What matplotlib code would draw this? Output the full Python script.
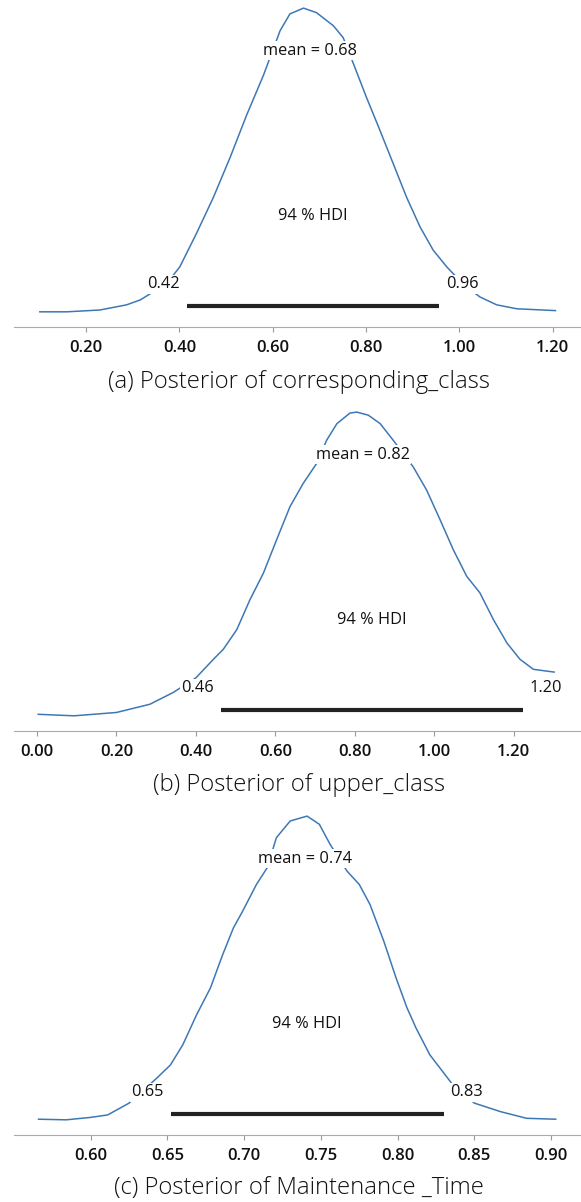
import matplotlib
matplotlib.use("Agg")
import matplotlib.pyplot as plt
from matplotlib.ticker import FormatStrFormatter

plt.rcParams['font.family'] = ['Open Sans', 'DejaVu Sans']

# (a) corresponding_class : x values and relative density
x_a = [0.101, 0.159, 0.230, 0.287, 0.316, 0.334, 0.373, 0.401, 0.437, 0.473,
       0.509, 0.544, 0.580, 0.616, 0.637, 0.666, 0.694, 0.730, 0.751, 0.773,
       0.801, 0.830, 0.858, 0.887, 0.916, 0.944, 0.973, 1.008, 1.044, 1.080,
       1.123, 1.206]
d_a = [0.0, 0.0, 0.006, 0.023, 0.039, 0.056, 0.093, 0.148, 0.259, 0.377,
       0.509, 0.647, 0.778, 0.926, 0.981, 1.0, 0.985, 0.942, 0.903, 0.817,
       0.706, 0.597, 0.489, 0.377, 0.279, 0.203, 0.148, 0.092, 0.049, 0.023,
       0.010, 0.004]
mean_a = 0.68
hdi_a = [0.416, 0.956]
hdi_lab_a = ["0.42", "0.96"]
ticks_a = [0.20, 0.40, 0.60, 0.80, 1.00, 1.20]

# (b) upper_class
x_b = [0.003, 0.093, 0.200, 0.284, 0.343, 0.400, 0.444, 0.469, 0.503, 0.536,
       0.570, 0.603, 0.637, 0.670, 0.704, 0.729, 0.755, 0.788, 0.805, 0.834,
       0.864, 0.897, 0.947, 0.981, 1.015, 1.048, 1.082, 1.115, 1.149, 1.183,
       1.216, 1.250, 1.302]
d_b = [0.005, 0.0, 0.011, 0.038, 0.077, 0.125, 0.186, 0.219, 0.284, 0.382,
       0.470, 0.579, 0.689, 0.765, 0.831, 0.907, 0.962, 0.997, 1.0, 0.990,
       0.962, 0.907, 0.820, 0.743, 0.645, 0.547, 0.459, 0.405, 0.317, 0.240,
       0.186, 0.153, 0.144]
mean_b = 0.82
hdi_b = [0.463, 1.223]
hdi_lab_b = ["0.46", "1.20"]
ticks_b = [0.00, 0.20, 0.40, 0.60, 0.80, 1.00, 1.20]

# (c) Maintenance_Time
x_c = [0.566, 0.584, 0.600, 0.611, 0.625, 0.643, 0.652, 0.660, 0.669, 0.678,
       0.686, 0.693, 0.699, 0.708, 0.715, 0.721, 0.730, 0.741, 0.749, 0.756,
       0.767, 0.775, 0.782, 0.791, 0.799, 0.806, 0.812, 0.821, 0.836, 0.850,
       0.867, 0.884, 0.903]
d_c = [0.002, 0.0, 0.008, 0.016, 0.055, 0.137, 0.181, 0.247, 0.346, 0.434,
       0.544, 0.632, 0.687, 0.775, 0.830, 0.929, 0.984, 1.0, 0.973, 0.907,
       0.819, 0.775, 0.709, 0.588, 0.467, 0.370, 0.302, 0.214, 0.115, 0.055,
       0.027, 0.005, 0.002]
mean_c = 0.74
hdi_c = [0.652, 0.830]
hdi_lab_c = ["0.65", "0.83"]
ticks_c = [0.60, 0.65, 0.70, 0.75, 0.80, 0.85, 0.90]

captions = ["(a) Posterior of corresponding_class",
            "(b) Posterior of upper_class",
            "(c) Posterior of Maintenance _Time"]

panels = [
    (x_a, d_a, mean_a, hdi_a, hdi_lab_a, ticks_a, (0.0457, 1.2607)),
    (x_b, d_b, mean_b, hdi_b, hdi_lab_b, ticks_b, (-0.058, 1.3696)),
    (x_c, d_c, mean_c, hdi_c, hdi_lab_c, ticks_c, (0.550, 0.9195)),
]

W, H = 581, 1202
fig = plt.figure(figsize=(W / 100, H / 100), dpi=100)

spine_px = [327, 731, 1135]
caption_px = [382, 785, 1188]
ax_h = 328
blue = '#3d78b5'
box = dict(facecolor='white', edgecolor='none', pad=1.0)
txt = dict(fontsize=11.8, color='#111111', fontweight='medium')

for i, (xs, ds, mean, hdi, hlab, ticks, xlim) in enumerate(panels):
    ax = fig.add_axes([14 / W, (H - spine_px[i]) / H, (W - 14) / W, ax_h / H])
    ax.plot(xs, ds, color=blue, lw=1.1, zorder=2, solid_joinstyle='round')
    ax.plot(hdi, [0.02, 0.02], color='#222222', lw=3.0, solid_capstyle='butt', zorder=2)

    ax.annotate(hlab[0], (hdi[0], 0.09), xytext=(-5, 0), textcoords='offset points',
                ha='right', va='center', bbox=box, zorder=3, **txt)
    ax.annotate(hlab[1], (hdi[1], 0.09), xytext=(5, 0), textcoords='offset points',
                ha='left', va='center', bbox=box, zorder=3, **txt)
    ax.text((hdi[0] + hdi[1]) / 2, 0.315, "94 % HDI", ha='center', va='center',
            zorder=3, **txt)
    ax.text(mean, 0.86, f"mean = {mean:.2f}", ha='center', va='center',
            bbox=box, zorder=3, **txt)

    ax.set_xlim(*xlim)
    ax.set_ylim(-0.05, 1.03)
    ax.set_xticks(ticks)
    ax.xaxis.set_major_formatter(FormatStrFormatter('%.2f'))
    ax.set_yticks([])
    for s in ['left', 'right', 'top']:
        ax.spines[s].set_visible(False)
    ax.spines['bottom'].set_color('#aaaaaa')
    ax.tick_params(axis='x', colors='#999999', length=3.5, width=0.8, pad=6,
                   labelsize=12, labelcolor='#111111')
    for lb in ax.get_xticklabels():
        lb.set_fontweight('semibold')
    ax.patch.set_alpha(0)

    fig.text(299 / W, 1 - caption_px[i] / H, captions[i], ha='center', va='center',
             fontsize=17.2, fontweight='light', color='#111111')

fig.savefig("out.png", dpi=100)
